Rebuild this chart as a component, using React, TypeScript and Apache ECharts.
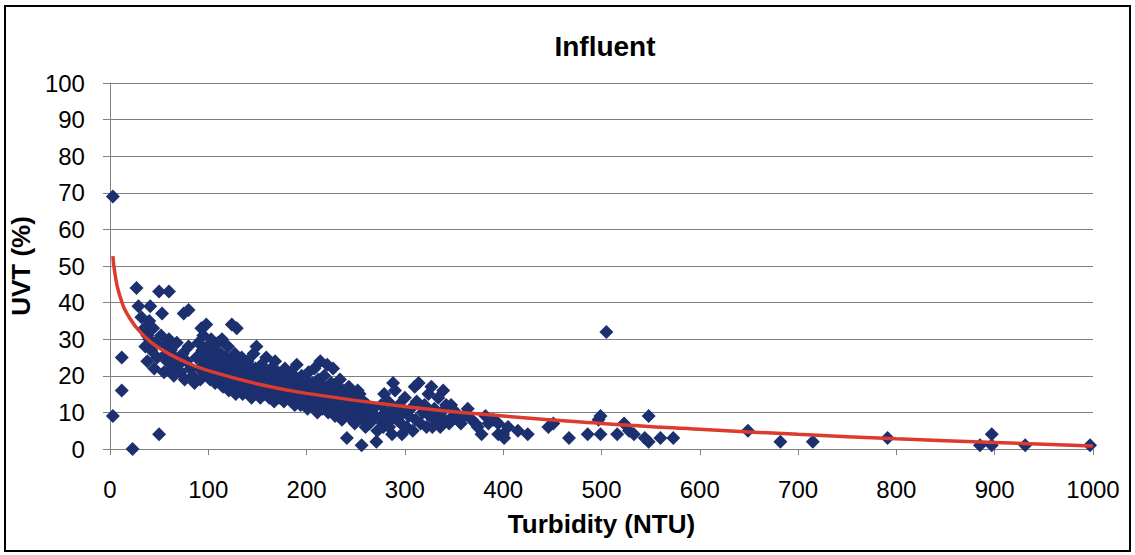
import React, { useEffect, useRef } from "react";
import * as echarts from "echarts";

const xTicks = [0, 100, 200, 300, 400, 500, 600, 700, 800, 900, 1000];
const yTicks = [0, 10, 20, 30, 40, 50, 60, 70, 80, 90, 100];

// Outlying / left-edge points [turbidity, UVT]
const edgePoints: number[][] = [
  [3, 69], [3, 9], [12, 25], [12, 16], [23, 0], [50, 4], [27, 44], [50, 43], [60, 43],
  [29, 39], [41, 39], [53, 37], [75, 37], [80, 38], [93, 33], [40, 35], [505, 32],
];

// Dense cluster 30–200 NTU
const clusterLow: number[][] = [
  [32, 36], [35, 33], [38, 31], [36, 28], [40, 30], [42, 27], [44, 33], [46, 29], [48, 25], [38, 24],
  [45, 22], [52, 31], [55, 28], [57, 26], [55, 21], [58, 24], [60, 30], [62, 27], [63, 22], [65, 20],
  [66, 25], [68, 29], [70, 23], [72, 21], [74, 26], [76, 19], [78, 24], [80, 28], [82, 22], [84, 20],
  [86, 18], [88, 25], [90, 29], [91, 22], [92, 19], [94, 27], [95, 31], [96, 24], [97, 21], [98, 34],
  [99, 28], [100, 26], [101, 23], [102, 19], [103, 30], [104, 25], [105, 21], [106, 27], [107, 18], [108, 24],
  [110, 29], [111, 22], [112, 20], [113, 26], [114, 30], [115, 17], [116, 23], [117, 19], [118, 25], [119, 21],
  [120, 28], [121, 16], [122, 22], [123, 18], [124, 34], [125, 24], [126, 20], [127, 26], [128, 15], [129, 33],
  [130, 21], [131, 17], [132, 23], [133, 19], [134, 25], [135, 15], [136, 22], [137, 18], [138, 20], [139, 16],
  [140, 24], [141, 23], [142, 17], [143, 21], [144, 14], [145, 19], [146, 26], [147, 15], [148, 22], [149, 28],
  [150, 18], [151, 16], [152, 20], [153, 14], [154, 23], [155, 17], [156, 19], [157, 15], [158, 21], [159, 25],
  [160, 16], [161, 18], [162, 14], [163, 20], [164, 22], [165, 15], [166, 17], [167, 13], [168, 24], [169, 19],
  [170, 16], [171, 21], [172, 14], [173, 18], [174, 15], [175, 20], [176, 17], [177, 13], [178, 22], [179, 16],
  [180, 19], [181, 14], [182, 18], [183, 15], [184, 21], [185, 13], [186, 17], [187, 20], [188, 12], [189, 16],
  [190, 23], [191, 14], [192, 18], [193, 15], [194, 12], [195, 20], [196, 17], [197, 13], [198, 16], [199, 19],
];

// Cluster 200–430 NTU
const clusterMid: number[][] = [
  [200, 14], [201, 11], [202, 21], [203, 17], [204, 13], [205, 15], [206, 18], [207, 12], [208, 22], [209, 14],
  [210, 16], [211, 10], [212, 19], [213, 13], [214, 24], [215, 15], [216, 11], [217, 17], [218, 20], [219, 12],
  [220, 14], [221, 23], [222, 10], [223, 16], [224, 13], [225, 18], [226, 11], [227, 22], [228, 15], [229, 9],
  [230, 12], [231, 17], [232, 14], [233, 10], [234, 19], [235, 13], [236, 8], [237, 16], [238, 11], [239, 9],
  [240, 14], [241, 3], [242, 12], [243, 17], [244, 10], [245, 15], [246, 8], [247, 13], [248, 11], [249, 7],
  [250, 14], [251, 9], [252, 16], [253, 12], [254, 15], [255, 10], [256, 1], [257, 8], [258, 13], [259, 11],
  [260, 6], [261, 9], [262, 12], [263, 9], [264, 7], [265, 10], [266, 8], [268, 11], [270, 9], [271, 2],
  [272, 5], [274, 8], [276, 12], [277, 9], [278, 6], [279, 15], [280, 10], [282, 7], [283, 13], [284, 6],
  [286, 9], [287, 4], [288, 18], [289, 11], [290, 16], [292, 8], [294, 12], [296, 7], [297, 4], [298, 10],
  [300, 14], [302, 6], [304, 9], [306, 11], [308, 5], [310, 17], [311, 8], [312, 13], [314, 18], [316, 7],
  [318, 10], [320, 12], [322, 6], [324, 15], [325, 9], [327, 17], [328, 6], [330, 11], [332, 8], [334, 14],
  [336, 6], [337, 10], [339, 16], [340, 8], [342, 12], [345, 7], [347, 12], [349, 9], [352, 10], [355, 8],
  [357, 7], [360, 9], [364, 11], [368, 8], [372, 7], [374, 6], [378, 4], [382, 9], [385, 7], [390, 8],
  [395, 4], [395, 7], [400, 4], [401, 3], [405, 6], [415, 5], [425, 4],
];

// Sparse high-turbidity points
const sparseHigh: number[][] = [
  [446, 6], [451, 7], [467, 3], [486, 4], [497, 8], [499, 4], [499, 9], [516, 4], [523, 7], [528, 5],
  [533, 4], [544, 3], [548, 9], [548, 2], [560, 3], [573, 3], [649, 5], [682, 2], [715, 2], [791, 3],
  [885, 1], [897, 4], [897, 1], [931, 1], [997, 1],
];

// Logarithmic trend line
const trendX = [3, 5, 10, 20, 35, 50, 75, 100, 150, 200, 300, 400, 500, 600, 700, 800, 900, 1000];
const trendY = [52.7, 48.1, 41.9, 35.8, 30.8, 27.6, 24.0, 21.4, 17.8, 15.2, 11.6, 9.0, 7.0, 5.4, 4.0, 2.8, 1.8, 0.8];

const FONT = "'Liberation Sans', Arial, sans-serif";

export default function App() {
  const ref = useRef<HTMLDivElement>(null);
  useEffect(() => {
    if (!ref.current) return;
    const chart = echarts.init(ref.current, null, { renderer: "svg" });
    const points = [...edgePoints, ...clusterLow, ...clusterMid, ...sparseHigh];
    chart.setOption({
      animation: false,
      backgroundColor: "#ffffff",
      title: {
        text: "Influent",
        left: 600,
        top: 27,
        textAlign: "center",
        textStyle: { fontFamily: FONT, fontSize: 28, fontWeight: "bold", color: "#000" },
      },
      grid: { left: 108, right: 42, top: 83, bottom: 106, containLabel: false },
      xAxis: {
        type: "value",
        min: xTicks[0],
        max: xTicks[xTicks.length - 1],
        interval: 100,
        name: "Turbidity (NTU)",
        nameLocation: "middle",
        nameGap: 62,
        nameTextStyle: { fontFamily: FONT, fontSize: 26, fontWeight: "bold", color: "#000" },
        axisLine: { show: true, lineStyle: { color: "#808080", width: 1 } },
        axisTick: { show: true, length: 6, lineStyle: { color: "#808080" } },
        axisLabel: {
          fontFamily: FONT,
          fontSize: 24,
          color: "#000",
          margin: 28,
          formatter: (v: number) => String(v),
        },
        splitLine: { show: false },
      },
      yAxis: {
        type: "value",
        min: yTicks[0],
        max: yTicks[yTicks.length - 1],
        interval: 10,
        name: "UVT (%)",
        nameLocation: "middle",
        nameGap: 72,
        nameTextStyle: { fontFamily: FONT, fontSize: 26, fontWeight: "bold", color: "#000" },
        axisLine: { show: true, lineStyle: { color: "#808080", width: 1 } },
        axisTick: { show: true, length: 7, lineStyle: { color: "#808080" } },
        axisLabel: { fontFamily: FONT, fontSize: 24, color: "#000", margin: 25 },
        splitLine: { show: true, lineStyle: { color: "#7f7f7f", width: 1 } },
      },
      graphic: [
        {
          type: "rect",
          shape: { x: 5, y: 6, width: 1125, height: 545 },
          style: { fill: "none", stroke: "#000", lineWidth: 2 },
          silent: true,
          z: 100,
        },
      ],
      series: [
        {
          type: "scatter",
          data: points,
          symbol: "diamond",
          symbolSize: [14, 14],
          itemStyle: { color: "#1c2f6e", opacity: 1 },
          z: 2,
        },
        {
          type: "line",
          data: trendX.map((x, i) => [x, trendY[i]]),
          smooth: true,
          showSymbol: false,
          symbol: "none",
          lineStyle: { color: "#dc3b2e", width: 3.5 },
          z: 3,
        },
      ],
    });
    return () => chart.dispose();
  }, []);
  return (
    <div
      ref={ref}
      style={{ position: "fixed", left: 0, top: 0, width: 1135, height: 555, background: "#fff" }}
    />
  );
}
